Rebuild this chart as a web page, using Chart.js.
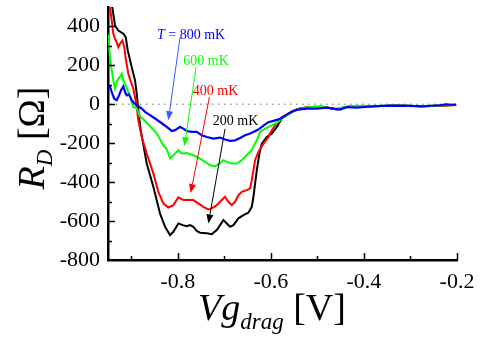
<!DOCTYPE html>
<html>
<head>
<meta charset="utf-8">
<script src="https://cdn.jsdelivr.net/npm/chart.js@4/dist/chart.umd.min.js"></script>
<style>
  html, body { margin: 0; padding: 0; background: #fff; }
  #wrap { width: 480px; height: 341px; }
</style>
</head>
<body>
<div id="wrap"><canvas id="dragChart" width="480" height="341"></canvas></div>
<script>
// --- DATA: drag resistance R_D (Ohm) vs drag gate voltage (V) ---

const vg200 = [-0.9457, -0.9408, -0.9349, -0.9278, -0.9171, -0.9119, -0.9076, -0.8990, -0.8919, -0.8883,
  -0.8848, -0.8797, -0.8668, -0.8526, -0.8382, -0.8274, -0.8167, -0.8096, -0.7988, -0.7894,
  -0.7808, -0.7737, -0.7666, -0.7592, -0.7522, -0.7377, -0.7270, -0.7162, -0.7091, -0.7020,
  -0.6947, -0.6876, -0.6805, -0.6698, -0.6590, -0.6483, -0.6410, -0.6375, -0.6339, -0.6302,
  -0.6246, -0.6195, -0.6087, -0.5980, -0.5872, -0.5765, -0.5657, -0.5550, -0.5442, -0.537,
  -0.523, -0.509, -0.494, -0.480, -0.458, -0.444, -0.430, -0.406, -0.380, -0.344,
  -0.308, -0.273, -0.236, -0.208, -0.202];
const rd200 = [560, 499, 405, 379, 363, 345, 277, 191, 123, 56,
  -31, -133, -304, -424, -561, -629, -672, -655, -612, -621,
  -626, -621, -629, -651, -660, -663, -667, -646, -621, -595,
  -612, -629, -621, -586, -569, -557, -527, -475, -407, -338,
  -253, -202, -168, -150, -116, -73, -56, -39, -27, -22,
  -17, -15, -14, -17, -27, -17, -10, -10, -10, -7,
  -7, -10, -7, -4, -2];

const vg400 = [-0.948, -0.9457, -0.9420, -0.9386, -0.9349, -0.9313, -0.9278, -0.9242, -0.9192, -0.9149,
  -0.9119, -0.9063, -0.9005, -0.8956, -0.8919, -0.8883, -0.8848, -0.8775, -0.8668, -0.8526,
  -0.8418, -0.8311, -0.8203, -0.8096, -0.7988, -0.7881, -0.7773, -0.7666, -0.7558, -0.7451,
  -0.7343, -0.7270, -0.7162, -0.7055, -0.6984, -0.6913, -0.6840, -0.6769, -0.6698, -0.6625,
  -0.6517, -0.6446, -0.6410, -0.6375, -0.6339, -0.6268, -0.6160, -0.6053, -0.5980, -0.5872,
  -0.5765, -0.5657, -0.5550, -0.5442, -0.535, -0.520, -0.505, -0.490, -0.476, -0.460,
  -0.446, -0.430, -0.410, -0.385, -0.350, -0.315, -0.280, -0.245, -0.212, -0.203];
const rd400 = [580, 499, 431, 363, 337, 319, 294, 311, 328, 294,
  234, 157, 114, 81, 37, -14, -82, -168, -253, -355,
  -450, -509, -530, -518, -478, -492, -492, -492, -509, -527,
  -540, -535, -518, -492, -475, -501, -518, -501, -467, -450,
  -441, -432, -390, -338, -287, -245, -202, -168, -133, -95,
  -67, -51, -36, -26, -20, -15, -13, -11, -18, -25,
  -19, -12, -9, -11, -8, -6, -11, -8, -5, -3];

const vg600 = [-0.9500, -0.9457, -0.9420, -0.9386, -0.9349, -0.9313, -0.9278, -0.9242, -0.9205, -0.9171,
  -0.9119, -0.9063, -0.9005, -0.8956, -0.8883, -0.8812, -0.8741, -0.8597, -0.8453, -0.8311,
  -0.8238, -0.8167, -0.8096, -0.7988, -0.7915, -0.7808, -0.7666, -0.7522, -0.7414, -0.7306,
  -0.7199, -0.7091, -0.7020, -0.6947, -0.6840, -0.6732, -0.6625, -0.6554, -0.6483, -0.6410,
  -0.6375, -0.6302, -0.6231, -0.6124, -0.5980, -0.5872, -0.5765, -0.5657, -0.5515, -0.5408,
  -0.530, -0.515, -0.497, -0.480, -0.460, -0.445, -0.428, -0.405, -0.380, -0.345,
  -0.310, -0.275, -0.240, -0.210, -0.202];
const rd600 = [359, 243, 174, 123, 81, 114, 132, 140, 157, 123,
  97, 63, 21, -14, -21, -62, -77, -113, -149, -210,
  -231, -277, -262, -236, -253, -250, -262, -279, -296, -313,
  -318, -304, -287, -296, -304, -304, -287, -270, -253, -236,
  -216, -185, -142, -125, -108, -95, -73, -56, -36, -27,
  -20, -14, -12, -16, -24, -15, -9, -8, -9, -6,
  -8, -9, -6, -3, -2];

const vg800 = [-0.9494, -0.9457, -0.9420, -0.9365, -0.9313, -0.9263, -0.9220, -0.9171, -0.9134, -0.9098,
  -0.9048, -0.8990, -0.8934, -0.8848, -0.8775, -0.8704, -0.8597, -0.8489, -0.8382, -0.8238,
  -0.8130, -0.8059, -0.7952, -0.7881, -0.7808, -0.7700, -0.7592, -0.7485, -0.7377, -0.7235,
  -0.7091, -0.6984, -0.6876, -0.6769, -0.6661, -0.6554, -0.6446, -0.6375, -0.6268, -0.6160,
  -0.6053, -0.5945, -0.5801, -0.5623, -0.5515, -0.5408, -0.5227, -0.5015, -0.4797, -0.4655,
  -0.4511, -0.4367, -0.4152, -0.3801, -0.3435, -0.3077, -0.2726, -0.2360, -0.2250, -0.2081,
  -0.2016];
const rd800 = [97, 92, 63, 29, 21, 46, 72, 92, 63, 46,
  51, 21, 4, -10, -22, -39, -56, -73, -91, -116,
  -137, -133, -116, -125, -137, -142, -142, -159, -168, -176,
  -171, -181, -188, -185, -173, -159, -150, -142, -130, -110,
  -92, -85, -74, -48, -34, -27, -22, -22, -17, -22,
  -27, -14, -17, -10, -7, -8, -10, -5, 0, -3,
  -2];

// tick positions and their labels ('' = minor tick)
const xTicks = [-0.9, -0.8, -0.7, -0.6, -0.5, -0.4, -0.3, -0.2];
const xLabels = ['', '-0.8', '', '-0.6', '', '-0.4', '', '-0.2'];
const yTicks = [-800, -700, -600, -500, -400, -300, -200, -100, 0, 100, 200, 300, 400, 500];
const yLabels = ['-800', '', '-600', '', '-400', '', '-200', '', '0', '', '200', '', '400', ''];

const SERIF = "'Liberation Serif', serif";

const toPoints = (xs, ys) => xs.map((v, i) => ({ x: v, y: ys[i] }));

function series(xs, ys, color, width) {
  return {
    data: toPoints(xs, ys),
    borderColor: color,
    borderWidth: width,
    pointRadius: 0,
    tension: 0,
    fill: false
  };
}

// temperature labels with arrows, placed in data coordinates
const notes = [
  { italic: 'T', text: ' = 800 mK', color: '#0000ff', arrow: '#3b5bff', at: [-0.8446, 336], from: [-0.7952, 344], to: [-0.8203, -82] },
  { text: '600 mK', color: '#00ff00', arrow: '#00ff00', at: [-0.7881, 200], from: [-0.7608, 190], to: [-0.7859, -215] },
  { text: '400 mK', color: '#ff0000', arrow: '#ff0000', at: [-0.7679, 46], from: [-0.7322, 36], to: [-0.7722, -456] },
  { text: '200 mK', color: '#000000', arrow: '#000000', at: [-0.7248, -108], from: [-0.6984, -126], to: [-0.7343, -612] }
];

function arrow(ctx, x1, y1, x2, y2, color) {
  const ang = Math.atan2(y2 - y1, x2 - x1);
  const len = 9, half = 3.5;
  const bx = x2 - len * Math.cos(ang), by = y2 - len * Math.sin(ang);
  ctx.strokeStyle = color;
  ctx.fillStyle = color;
  ctx.lineWidth = 1;
  ctx.beginPath();
  ctx.moveTo(x1, y1);
  ctx.lineTo(bx, by);
  ctx.stroke();
  ctx.beginPath();
  ctx.moveTo(x2, y2);
  ctx.lineTo(bx + half * Math.sin(ang), by - half * Math.cos(ang));
  ctx.lineTo(bx - half * Math.sin(ang), by + half * Math.cos(ang));
  ctx.closePath();
  ctx.fill();
}

// runs of [text, font, baseline shift]
function drawRuns(ctx, runs, x, y) {
  let cx = x;
  runs.forEach(([t, f, dy]) => {
    ctx.font = f;
    ctx.fillText(t, cx, y + dy);
    cx += ctx.measureText(t).width;
  });
}

function runsWidth(ctx, runs) {
  return runs.reduce((w, [t, f]) => { ctx.font = f; return w + ctx.measureText(t).width; }, 0);
}

const decor = {
  id: 'decor',
  beforeDatasetsDraw(chart) {
    const { ctx, chartArea: a, scales: { y } } = chart;
    const y0 = y.getPixelForValue(0);
    ctx.save();
    ctx.strokeStyle = '#9a9a9a';
    ctx.lineWidth = 1.5;
    ctx.setLineDash([1.5, 4.5]);
    ctx.beginPath();
    ctx.moveTo(a.left + 2, y0);
    ctx.lineTo(a.right, y0);
    ctx.stroke();
    ctx.restore();
  },
  afterDraw(chart) {
    const { ctx, chartArea: a, scales: { x, y } } = chart;
    ctx.save();

    // inward tick marks
    ctx.strokeStyle = '#000';
    ctx.lineWidth = 1.5;
    ctx.beginPath();
    xTicks.forEach((v, i) => {
      const px = Math.round(x.getPixelForValue(v)) + 0.5;
      const len = xLabels[i] ? 7 : 4;
      ctx.moveTo(px, a.bottom);
      ctx.lineTo(px, a.bottom - len);
    });
    yTicks.forEach((v, i) => {
      if (v >= 500 || v <= -800) return;
      const py = Math.round(y.getPixelForValue(v)) + 0.5;
      const len = yLabels[i] ? 7 : 4;
      ctx.moveTo(a.left, py);
      ctx.lineTo(a.left + len, py);
    });
    ctx.stroke();

    // temperature annotations
    ctx.textBaseline = 'alphabetic';
    ctx.textAlign = 'left';
    notes.forEach(n => {
      arrow(ctx, x.getPixelForValue(n.from[0]), y.getPixelForValue(n.from[1]),
        x.getPixelForValue(n.to[0]), y.getPixelForValue(n.to[1]), n.arrow);
      ctx.fillStyle = n.color;
      const runs = [];
      if (n.italic) runs.push([n.italic, 'italic 14px ' + SERIF, 0]);
      runs.push([n.text, '14px ' + SERIF, 0]);
      drawRuns(ctx, runs, x.getPixelForValue(n.at[0]), y.getPixelForValue(n.at[1]));
    });

    // axis titles
    ctx.fillStyle = '#000';
    const xRuns = [['Vg', 'italic 38px ' + SERIF, 0], ['drag', 'italic 23px ' + SERIF, 9], [' [V]', '38px ' + SERIF, 0]];
    const xw = runsWidth(ctx, xRuns);
    drawRuns(ctx, xRuns, 272 - xw / 2, 320);

    const yRuns = [['R', 'italic 38px ' + SERIF, 0], ['D', 'italic 23px ' + SERIF, 8], [' [Ω]', '38px ' + SERIF, 0]];
    const yw = runsWidth(ctx, yRuns);
    ctx.translate(44, 138);
    ctx.rotate(-Math.PI / 2);
    drawRuns(ctx, yRuns, -yw / 2, 0);

    ctx.restore();
  }
};

new Chart(document.getElementById('dragChart'), {
  type: 'line',
  data: {
    datasets: [
      series(vg800, rd800, '#0000ff', 2.2),
      series(vg600, rd600, '#00ff00', 2),
      series(vg400, rd400, '#ff0000', 2),
      series(vg200, rd200, '#000000', 2)
    ]
  },
  options: {
    responsive: false,
    animation: false,
    layout: { padding: { top: 7, right: 23, left: 0, bottom: 0 } },
    plugins: { legend: { display: false }, tooltip: { enabled: false } },
    scales: {
      x: {
        type: 'linear',
        min: -0.95,
        max: -0.2,
        afterBuildTicks: s => { s.ticks = xTicks.map(v => ({ value: v })); },
        afterFit: s => { s.height = 81; s.paddingLeft = 0; s.paddingRight = 0; },
        grid: { display: false, drawTicks: false },
        border: { display: true, color: '#000', width: 2.5 },
        ticks: {
          autoSkip: false,
          maxRotation: 0,
          padding: 9,
          color: '#000',
          font: { family: SERIF, size: 22 },
          callback: v => xLabels[xTicks.findIndex(t => Math.abs(t - v) < 1e-6)] || ''
        }
      },
      y: {
        min: -800,
        max: 500,
        afterBuildTicks: s => { s.ticks = yTicks.map(v => ({ value: v })); },
        afterFit: s => { s.width = 108; s.paddingTop = 0; s.paddingBottom = 0; },
        grid: { display: false, drawTicks: false },
        border: { display: true, color: '#000', width: 2.5 },
        ticks: {
          autoSkip: false,
          padding: 8,
          color: '#000',
          font: { family: SERIF, size: 22 },
          callback: v => yLabels[yTicks.indexOf(v)] || ''
        }
      }
    }
  },
  plugins: [decor]
});
</script>
</body>
</html>
